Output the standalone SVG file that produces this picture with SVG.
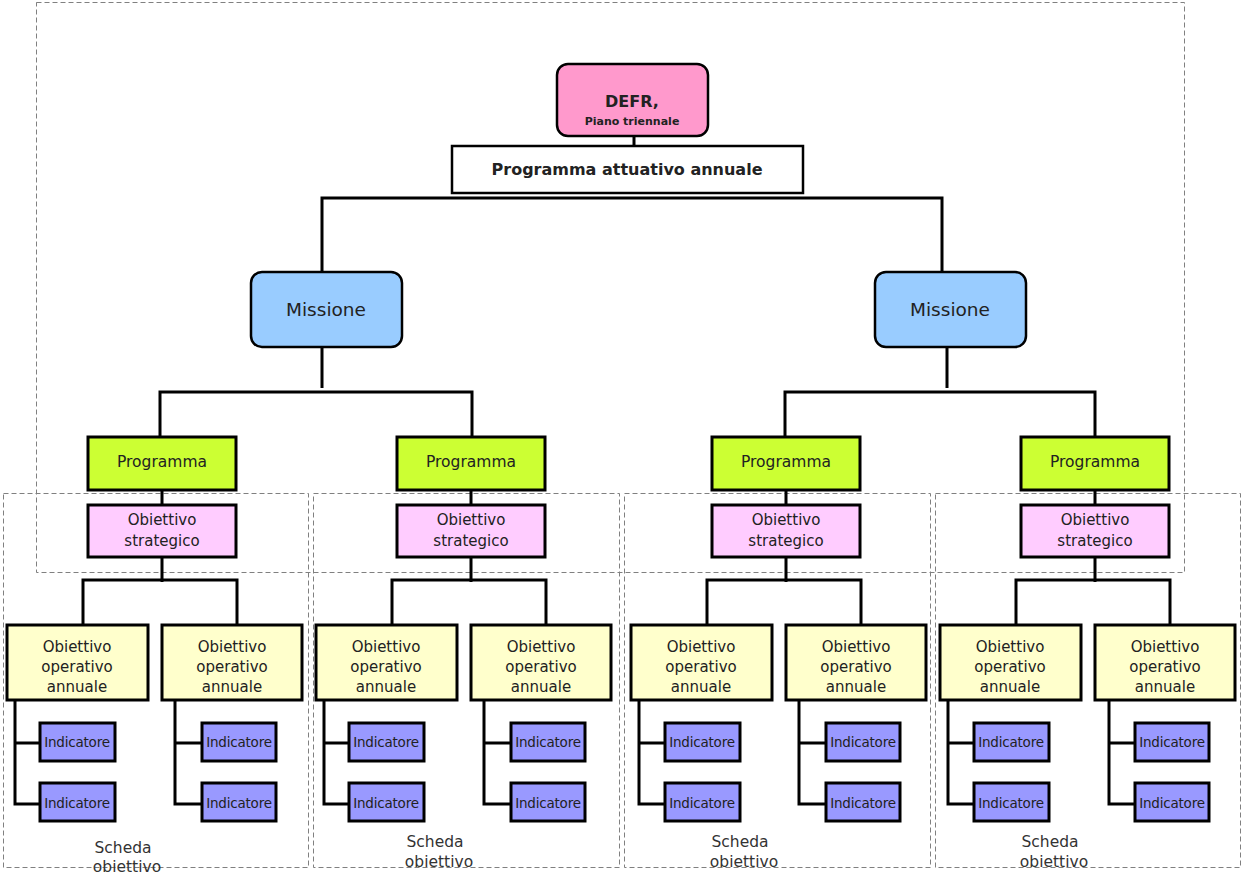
<svg xmlns="http://www.w3.org/2000/svg" width="1242" height="874" viewBox="0 0 1242 874">
<style>
text{font-family:"DejaVu Sans","Liberation Sans",sans-serif;fill:#222;text-anchor:middle}
.b{stroke:#000;stroke-width:3}
.dash{fill:none;stroke:#808080;stroke-width:1;stroke-dasharray:5,3}
.c{fill:none;stroke:#000;stroke-width:3}
.prog{fill:#ccff33}
.os{fill:#ffccff}
.oo{fill:#ffffcc}
.ind{fill:#9999ff}
.t15{font-size:15.5px}
.t14{font-size:15px}
.t13{font-size:13.5px;letter-spacing:-0.2px}
.sch{font-size:15.5px;fill:#333}
</style>
<rect width="1242" height="874" fill="#fff"/>
<g id="frames">
<rect class="dash" x="36.5" y="2.5" width="1148" height="570"/>
<rect class="dash" x="3.5" y="493.5" width="305" height="374"/>
<rect class="dash" x="313.5" y="493.5" width="306" height="374"/>
<rect class="dash" x="624.5" y="493.5" width="306" height="374"/>
<rect class="dash" x="935.5" y="493.5" width="305" height="374"/>
</g>
<g id="connectors">
<path class="c" d="M634 136V146"/>
<path class="c" d="M322 272V198H942V272"/>
<path class="c" d="M322 347V388M160 437V392H472V437"/>
<path class="c" d="M947 347V388M785 437V392H1095V437"/>
<path class="c" d="M162 490V505M162 557V582M83 625V580H237V625"/>
<path class="c" d="M471 490V505M471 557V582M392 625V580H546V625"/>
<path class="c" d="M786 490V505M786 557V582M707 625V580H861V625"/>
<path class="c" d="M1095 490V505M1095 557V582M1016 625V580H1170V625"/>
<path class="c" d="M15 700V804H40M15 743H40M175 700V804H202M175 743H202"/>
<path class="c" d="M324 700V804H349M324 743H349M484 700V804H511M484 743H511"/>
<path class="c" d="M639 700V804H665M639 743H665M799 700V804H826M799 743H826"/>
<path class="c" d="M948 700V804H974M948 743H974M1109 700V804H1135M1109 743H1135"/>
</g>
<g id="defr">
<rect x="557" y="64" width="151" height="72" rx="11" fill="#ff99cc" stroke="#000" stroke-width="2.5"/>
<text x="632" y="107" font-size="16" font-weight="bold">DEFR,</text>
<text x="632" y="125" font-size="11" font-weight="bold">Piano triennale</text>
</g>
<g id="paa">
<rect x="452" y="146" width="351" height="47" fill="#fff" stroke="#000" stroke-width="2.5"/>
<text x="627" y="175" font-size="16" font-weight="bold">Programma attuativo annuale</text>
</g>
<g id="missione1">
<rect x="251" y="272" width="151" height="75" rx="11" fill="#99ccff" stroke="#000" stroke-width="2.5"/>
<text x="326" y="316" font-size="18.5">Missione</text>
</g>
<g id="missione2">
<rect x="875" y="272" width="151" height="75" rx="11" fill="#99ccff" stroke="#000" stroke-width="2.5"/>
<text x="950" y="316" font-size="18.5">Missione</text>
</g>
<g id="programma1"><rect class="b prog" x="88" y="437" width="148" height="53"/><text class="t15" x="162" y="467">Programma</text></g>
<g id="programma2"><rect class="b prog" x="397" y="437" width="148" height="53"/><text class="t15" x="471" y="467">Programma</text></g>
<g id="programma3"><rect class="b prog" x="712" y="437" width="148" height="53"/><text class="t15" x="786" y="467">Programma</text></g>
<g id="programma4"><rect class="b prog" x="1021" y="437" width="148" height="53"/><text class="t15" x="1095" y="467">Programma</text></g>
<g id="os1"><rect class="b os" x="88" y="505" width="148" height="52"/><text class="t14" x="162" y="525">Obiettivo</text><text class="t14" x="162" y="546">strategico</text></g>
<g id="os2"><rect class="b os" x="397" y="505" width="148" height="52"/><text class="t14" x="471" y="525">Obiettivo</text><text class="t14" x="471" y="546">strategico</text></g>
<g id="os3"><rect class="b os" x="712" y="505" width="148" height="52"/><text class="t14" x="786" y="525">Obiettivo</text><text class="t14" x="786" y="546">strategico</text></g>
<g id="os4"><rect class="b os" x="1021" y="505" width="148" height="52"/><text class="t14" x="1095" y="525">Obiettivo</text><text class="t14" x="1095" y="546">strategico</text></g>
<g id="oo1a"><rect class="b oo" x="7" y="625" width="141" height="75"/><text class="t14" x="77" y="652">Obiettivo</text><text class="t14" x="77" y="672">operativo</text><text class="t14" x="77" y="692">annuale</text></g>
<g id="oo1b"><rect class="b oo" x="162" y="625" width="140" height="75"/><text class="t14" x="232" y="652">Obiettivo</text><text class="t14" x="232" y="672">operativo</text><text class="t14" x="232" y="692">annuale</text></g>
<g id="oo2a"><rect class="b oo" x="316" y="625" width="141" height="75"/><text class="t14" x="386" y="652">Obiettivo</text><text class="t14" x="386" y="672">operativo</text><text class="t14" x="386" y="692">annuale</text></g>
<g id="oo2b"><rect class="b oo" x="471" y="625" width="140" height="75"/><text class="t14" x="541" y="652">Obiettivo</text><text class="t14" x="541" y="672">operativo</text><text class="t14" x="541" y="692">annuale</text></g>
<g id="oo3a"><rect class="b oo" x="631" y="625" width="141" height="75"/><text class="t14" x="701" y="652">Obiettivo</text><text class="t14" x="701" y="672">operativo</text><text class="t14" x="701" y="692">annuale</text></g>
<g id="oo3b"><rect class="b oo" x="786" y="625" width="140" height="75"/><text class="t14" x="856" y="652">Obiettivo</text><text class="t14" x="856" y="672">operativo</text><text class="t14" x="856" y="692">annuale</text></g>
<g id="oo4a"><rect class="b oo" x="940" y="625" width="141" height="75"/><text class="t14" x="1010" y="652">Obiettivo</text><text class="t14" x="1010" y="672">operativo</text><text class="t14" x="1010" y="692">annuale</text></g>
<g id="oo4b"><rect class="b oo" x="1095" y="625" width="140" height="75"/><text class="t14" x="1165" y="652">Obiettivo</text><text class="t14" x="1165" y="672">operativo</text><text class="t14" x="1165" y="692">annuale</text></g>
<g id="ind1"><rect class="b ind" x="40" y="723" width="75" height="38"/><text class="t13" x="77" y="747">Indicatore</text><rect class="b ind" x="40" y="783" width="75" height="38"/><text class="t13" x="77" y="808">Indicatore</text></g>
<g id="ind2"><rect class="b ind" x="202" y="723" width="74" height="38"/><text class="t13" x="239" y="747">Indicatore</text><rect class="b ind" x="202" y="783" width="74" height="38"/><text class="t13" x="239" y="808">Indicatore</text></g>
<g id="ind3"><rect class="b ind" x="349" y="723" width="75" height="38"/><text class="t13" x="386" y="747">Indicatore</text><rect class="b ind" x="349" y="783" width="75" height="38"/><text class="t13" x="386" y="808">Indicatore</text></g>
<g id="ind4"><rect class="b ind" x="511" y="723" width="74" height="38"/><text class="t13" x="548" y="747">Indicatore</text><rect class="b ind" x="511" y="783" width="74" height="38"/><text class="t13" x="548" y="808">Indicatore</text></g>
<g id="ind5"><rect class="b ind" x="665" y="723" width="75" height="38"/><text class="t13" x="702" y="747">Indicatore</text><rect class="b ind" x="665" y="783" width="75" height="38"/><text class="t13" x="702" y="808">Indicatore</text></g>
<g id="ind6"><rect class="b ind" x="826" y="723" width="74" height="38"/><text class="t13" x="863" y="747">Indicatore</text><rect class="b ind" x="826" y="783" width="74" height="38"/><text class="t13" x="863" y="808">Indicatore</text></g>
<g id="ind7"><rect class="b ind" x="974" y="723" width="75" height="38"/><text class="t13" x="1011" y="747">Indicatore</text><rect class="b ind" x="974" y="783" width="75" height="38"/><text class="t13" x="1011" y="808">Indicatore</text></g>
<g id="ind8"><rect class="b ind" x="1135" y="723" width="74" height="38"/><text class="t13" x="1172" y="747">Indicatore</text><rect class="b ind" x="1135" y="783" width="74" height="38"/><text class="t13" x="1172" y="808">Indicatore</text></g>
<g id="scheda1"><text class="sch" x="123" y="853">Scheda</text><text class="sch" x="127" y="872">obiettivo</text></g>
<g id="scheda2"><text class="sch" x="435" y="847">Scheda</text><text class="sch" x="439" y="867">obiettivo</text></g>
<g id="scheda3"><text class="sch" x="740" y="847">Scheda</text><text class="sch" x="744" y="867">obiettivo</text></g>
<g id="scheda4"><text class="sch" x="1050" y="847">Scheda</text><text class="sch" x="1054" y="867">obiettivo</text></g>
</svg>
